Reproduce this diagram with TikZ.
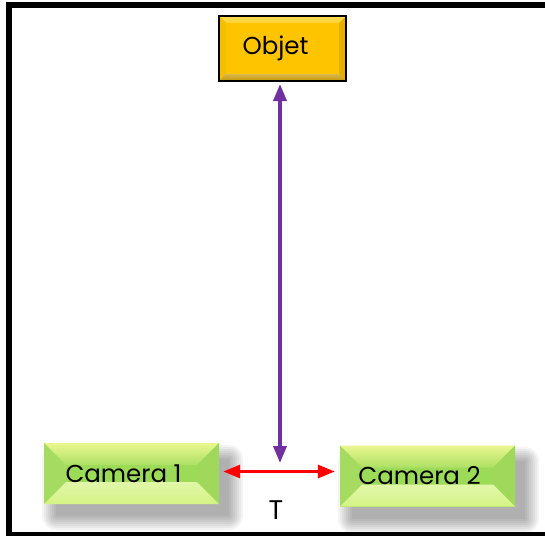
\documentclass[tikz,border=0pt]{standalone}
\usepackage{fontspec}
\setmainfont{Poppins}
\usetikzlibrary{calc,arrows.meta}

\definecolor{gold}{HTML}{FFC400}
\definecolor{goldtop}{HTML}{FFDC55}
\definecolor{goldleft}{HTML}{F5BE00}
\definecolor{goldright}{HTML}{E6AE00}
\definecolor{goldbot}{HTML}{C79800}
\definecolor{lime}{HTML}{9CDB58}
\definecolor{limetopA}{HTML}{EAF78F}
\definecolor{limetopB}{HTML}{ADE065}
\definecolor{limeleft}{HTML}{A5DB60}
\definecolor{limeright}{HTML}{A0D85C}
\definecolor{limebotB}{HTML}{D5F385}
\definecolor{violet}{HTML}{7030A0}

% bevelled box: four edge facets drawn inside the node
\newcommand{\bevelfacets}[6]{%
  \coordinate (bnw) at (path picture bounding box.north west);
  \coordinate (bne) at (path picture bounding box.north east);
  \coordinate (bsw) at (path picture bounding box.south west);
  \coordinate (bse) at (path picture bounding box.south east);
  \coordinate (inw) at ($(bnw)+(#1,-#1)$);
  \coordinate (ine) at ($(bne)+(-#1,-#1)$);
  \coordinate (isw) at ($(bsw)+(#1,#1)$);
  \coordinate (ise) at ($(bse)+(-#1,#1)$);
  \shade[top color=#2, bottom color=#3] (bnw) -- (bne) -- (ine) -- (inw) -- cycle;
  \fill[#4] (bnw) -- (inw) -- (isw) -- (bsw) -- cycle;
  \fill[#5] (bne) -- (ine) -- (ise) -- (bse) -- cycle;
  \shade[top color=#6!70!white, bottom color=#6] (bsw) -- (isw) -- (ise) -- (bse) -- cycle;
}

\tikzset{
  >={Triangle[length=17pt,width=13pt]},
  boxtext/.style={font=\fontsize{24.5}{28}\selectfont},
  objbox/.style={rectangle, fill=gold, draw=black, line width=2pt,
    minimum width=127pt, minimum height=65pt, inner sep=0pt, boxtext,
    path picture={\bevelfacets{7pt}{goldtop}{goldtop!60!gold}{goldleft}{goldright}{goldbot}}},
  cambox/.style={rectangle, fill=lime, draw=none,
    minimum width=175pt, minimum height=61pt, inner sep=0pt, boxtext,
    path picture={\bevelfacets{22pt}{limetopA}{limetopB}{limeleft}{limeright}{limebotB}}},
}

\begin{document}
\begin{tikzpicture}[x=1pt,y=-1pt]
  \useasboundingbox (0,0) rectangle (545,535);
  \begin{scope}
    \clip (0,0) rectangle (545,535);
    \fill[white] (0,0) rectangle (545,535);

    % soft shadows under the camera boxes, stacked translucent layers
    \path (44,443) coordinate (c1nw) (219,504) coordinate (c1se);
    \path (340,445) coordinate (c2nw) (515,507) coordinate (c2se);
    \foreach \a/\b in {c1nw/c1se, c2nw/c2se}{
      \foreach \g in {14,12,...,0}{
        \fill[black, opacity=0.045, rounded corners=\g pt]
          ($(\a)+(12pt-\g pt,-16pt+\g pt)$) rectangle ($(\b)+(10pt+\g pt,-12pt-\g pt)$);
      }
    }

    % outer frame
    \draw[line width=6pt] (9,5.5) rectangle (552,535);

    % boxes (text sits a little left of centre)
    \node[objbox] (obj) at (282.5,48.5) {Objet\kern14pt};
    \node[cambox] (cam1) at (131.5,473.5) {Camera 1\kern16pt};
    \node[cambox] (cam2) at (427.5,476) {Camera 2\kern16pt};

    % distance label
    \node[fill=white, minimum width=40pt, minimum height=45pt, inner sep=0pt] (tbox) at (268,507.5) {};
    \node[font=\fontsize{27}{30}\selectfont, inner sep=0pt] (tlabel) at (276,510) {T};

    % connectors
    \coordinate (vbottom) at (280,463);
    \coordinate (ry) at (0,471.5);
    \draw[violet, line width=3.5pt, <->]
      (obj.south -| vbottom) ++(0,2) -- (vbottom);
    \draw[red, line width=3pt, <->]
      ($(cam1.east |- ry)+(4,0)$) -- ($(cam2.west |- ry)+(-5,0)$);
  \end{scope}
\end{tikzpicture}
\end{document}
